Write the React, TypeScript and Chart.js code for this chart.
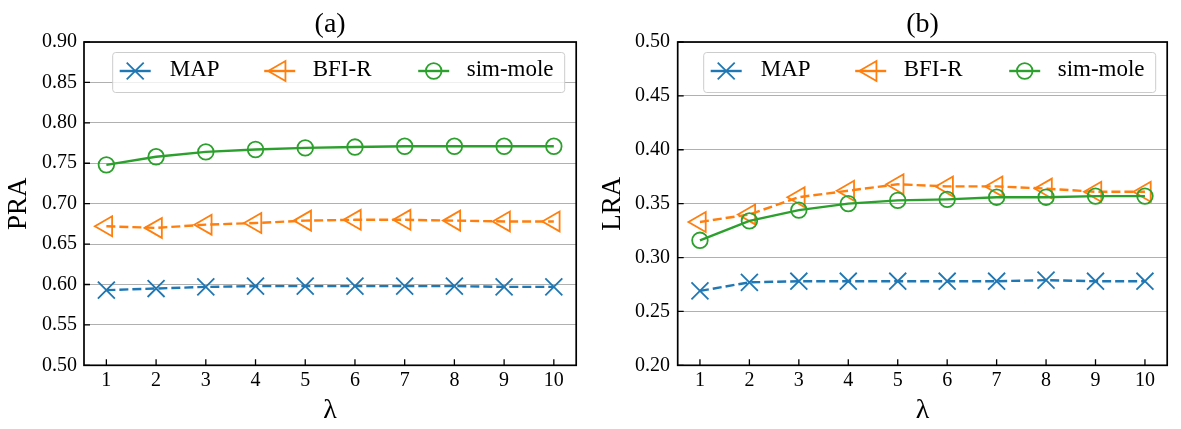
import React, { useEffect, useRef } from 'react'
import { Chart, registerables } from 'chart.js'
import { drawPoint } from 'chart.js/helpers'

Chart.register(...registerables)

const FONT = "'Liberation Serif', 'Times New Roman', serif"
Chart.defaults.font.family = FONT
Chart.defaults.color = '#000'

// data
const lambdas = [1, 2, 3, 4, 5, 6, 7, 8, 9, 10]
const seriesNames = ['MAP', 'BFI-R', 'sim-mole']

const praMap = [0.593, 0.595, 0.597, 0.598, 0.598, 0.598, 0.598, 0.598, 0.597, 0.597]
const praBfi = [0.672, 0.670, 0.674, 0.676, 0.679, 0.680, 0.680, 0.679, 0.678, 0.678]
const praSim = [0.748, 0.758, 0.764, 0.767, 0.769, 0.770, 0.771, 0.771, 0.771, 0.771]

const lraMap = [0.269, 0.277, 0.278, 0.278, 0.278, 0.278, 0.278, 0.279, 0.278, 0.278]
const lraBfi = [0.333, 0.340, 0.356, 0.362, 0.368, 0.366, 0.366, 0.364, 0.361, 0.361]
const lraSim = [0.316, 0.334, 0.344, 0.350, 0.353, 0.354, 0.356, 0.356, 0.357, 0.357]

const praTicks = [0.5, 0.55, 0.6, 0.65, 0.7, 0.75, 0.8, 0.85, 0.9]
const lraTicks = [0.2, 0.25, 0.3, 0.35, 0.4, 0.45, 0.5]

const DASH = [9, 4]
const styles: Record<string, any> = {
  MAP: { color: '#1f77b4', dash: DASH, pointStyle: 'crossRot', radius: 12, rotation: 0 },
  'BFI-R': { color: '#ff7f0e', dash: DASH, pointStyle: 'triangle', radius: 11.5, rotation: -90 },
  'sim-mole': { color: '#2ca02c', dash: [], pointStyle: 'circle', radius: 7.8, rotation: 0 },
}

// inward ticks on left/bottom + full black frame
const framePlugin = {
  id: 'frame',
  afterDatasetsDraw(chart: any) {
    const { ctx, chartArea: a, scales } = chart
    ctx.save()
    ctx.strokeStyle = '#000'
    ctx.lineWidth = 1.3
    ctx.beginPath()
    scales.x.ticks.forEach((t: any) => {
      const px = scales.x.getPixelForValue(t.value)
      ctx.moveTo(px, a.bottom)
      ctx.lineTo(px, a.bottom - 6)
    })
    scales.y.ticks.forEach((t: any) => {
      const py = scales.y.getPixelForValue(t.value)
      ctx.moveTo(a.left, py)
      ctx.lineTo(a.left + 6, py)
    })
    ctx.stroke()
    ctx.lineWidth = 1.7
    ctx.strokeRect(a.left, a.top, a.right - a.left, a.bottom - a.top)
    ctx.restore()
  },
}

// matplotlib-like legend box in the upper right of the plot area
const markerOffsets = [22.5, 167, 321]
const textOffsets = [57, 200, 354]

const legendPlugin = {
  id: 'boxLegend',
  afterDraw(chart: any) {
    const { ctx, chartArea: a } = chart
    const w = 452
    const h = 40
    const left = a.right - 11.5 - w
    const top = a.top + 10.5
    const cy = top + 18.5
    ctx.save()
    ctx.beginPath()
    ctx.roundRect(left, top, w, h, 3)
    ctx.fillStyle = 'rgba(255,255,255,0.8)'
    ctx.fill()
    ctx.strokeStyle = '#cccccc'
    ctx.lineWidth = 1
    ctx.stroke()
    chart.data.datasets.forEach((ds: any, i: number) => {
      const cx = left + markerOffsets[i]
      ctx.strokeStyle = ds.borderColor
      ctx.lineWidth = 2.4
      ctx.setLineDash([])
      ctx.beginPath()
      ctx.moveTo(cx - 15.5, cy)
      ctx.lineTo(cx + 15.5, cy)
      ctx.stroke()
      ctx.fillStyle = 'rgba(0,0,0,0)'
      ctx.lineWidth = 1.8
      drawPoint(ctx, { pointStyle: ds.pointStyle, radius: ds.pointRadius, rotation: ds.pointRotation, borderWidth: 1.8 } as any, cx, cy)
      ctx.fillStyle = '#000'
      ctx.font = `23px ${FONT}`
      ctx.textBaseline = 'middle'
      ctx.textAlign = 'left'
      ctx.fillText(ds.label, left + textOffsets[i], cy - 1.5)
    })
    ctx.restore()
  },
}

type PanelProps = {
  title: string
  yLabel: string
  yTicks: readonly number[]
  values: readonly (readonly number[])[]
  width: number
  axisWidth: number
  padRight: number
  tickPad: number
  yTitlePad: number
}

const Panel: React.FC<PanelProps> = ({ title, yLabel, yTicks, values, width, axisWidth, padRight, tickPad, yTitlePad }) => {
  const ref = useRef<HTMLCanvasElement | null>(null)

  useEffect(() => {
    if (!ref.current) return
    const tickFont = { family: FONT, size: 20 }
    const chart = new Chart(ref.current, {
      type: 'line',
      data: {
        datasets: seriesNames.map((name, i) => {
          const s = styles[name]
          return {
            label: name,
            data: lambdas.map((x, j) => ({ x, y: values[i][j] })),
            borderColor: s.color,
            borderWidth: 2.4,
            borderDash: s.dash,
            pointStyle: s.pointStyle,
            pointRadius: s.radius,
            pointRotation: s.rotation,
            pointBorderColor: s.color,
            pointBackgroundColor: 'rgba(0,0,0,0)',
            pointBorderWidth: 1.8,
            tension: 0,
            fill: false,
            order: 2 - i,
          }
        }),
      },
      options: {
        responsive: false,
        animation: false,
        events: [],
        layout: { padding: { left: 0, right: padRight, top: 0, bottom: 0 } },
        plugins: {
          legend: { display: false },
          tooltip: { enabled: false },
          title: {
            display: true,
            text: title,
            fullSize: false,
            align: 'center',
            color: '#000',
            font: { family: FONT, size: 28, weight: 'normal' },
            padding: { top: 8.2, bottom: 0.2 },
          },
        },
        scales: {
          x: {
            type: 'linear',
            min: 0.55,
            max: 10.45,
            afterBuildTicks: (s: any) => {
              s.ticks = lambdas.map((v) => ({ value: v }))
            },
            afterFit: (s: any) => {
              s.height = 63.7
            },
            grid: { display: false, drawTicks: false },
            border: { display: false },
            ticks: { padding: 3.9, color: '#000', font: tickFont, callback: (v: any) => String(v) },
            title: {
              display: true,
              text: 'λ',
              color: '#000',
              font: { family: FONT, size: 28 },
              padding: { top: 0, bottom: 1.9 },
            },
          },
          y: {
            type: 'linear',
            min: yTicks[0],
            max: yTicks[yTicks.length - 1],
            afterBuildTicks: (s: any) => {
              s.ticks = yTicks.map((v) => ({ value: v }))
            },
            afterFit: (s: any) => {
              s.width = axisWidth
            },
            grid: { color: '#b0b0b0', lineWidth: 1, drawTicks: false },
            border: { display: false },
            ticks: { padding: tickPad, color: '#000', font: tickFont, callback: (v: any) => Number(v).toFixed(2) },
            title: {
              display: true,
              text: yLabel,
              color: '#000',
              font: { family: FONT, size: 27 },
              padding: { top: yTitlePad, bottom: 0 },
            },
          },
        },
      } as any,
      plugins: [framePlugin, legendPlugin],
    })
    return () => chart.destroy()
  }, [title, yLabel, yTicks, values, axisWidth, padRight, tickPad, yTitlePad])

  return <canvas ref={ref} width={width} height={429} style={{ width, height: 429, display: 'block' }} />
}

export default function App() {
  return (
    <div style={{ position: 'absolute', left: 0, top: 0, width: 1181, height: 429, background: '#fff', display: 'flex' }}>
      <Panel
        title="(a)"
        yLabel="PRA"
        yTicks={praTicks}
        values={[praMap, praBfi, praSim]}
        width={590}
        axisWidth={84}
        padRight={11}
        tickPad={7}
        yTitlePad={2.8}
      />
      <Panel
        title="(b)"
        yLabel="LRA"
        yTicks={lraTicks}
        values={[lraMap, lraBfi, lraSim]}
        width={591}
        axisWidth={87.7}
        padRight={8.7}
        tickPad={7.7}
        yTitlePad={6.5}
      />
    </div>
  )
}
